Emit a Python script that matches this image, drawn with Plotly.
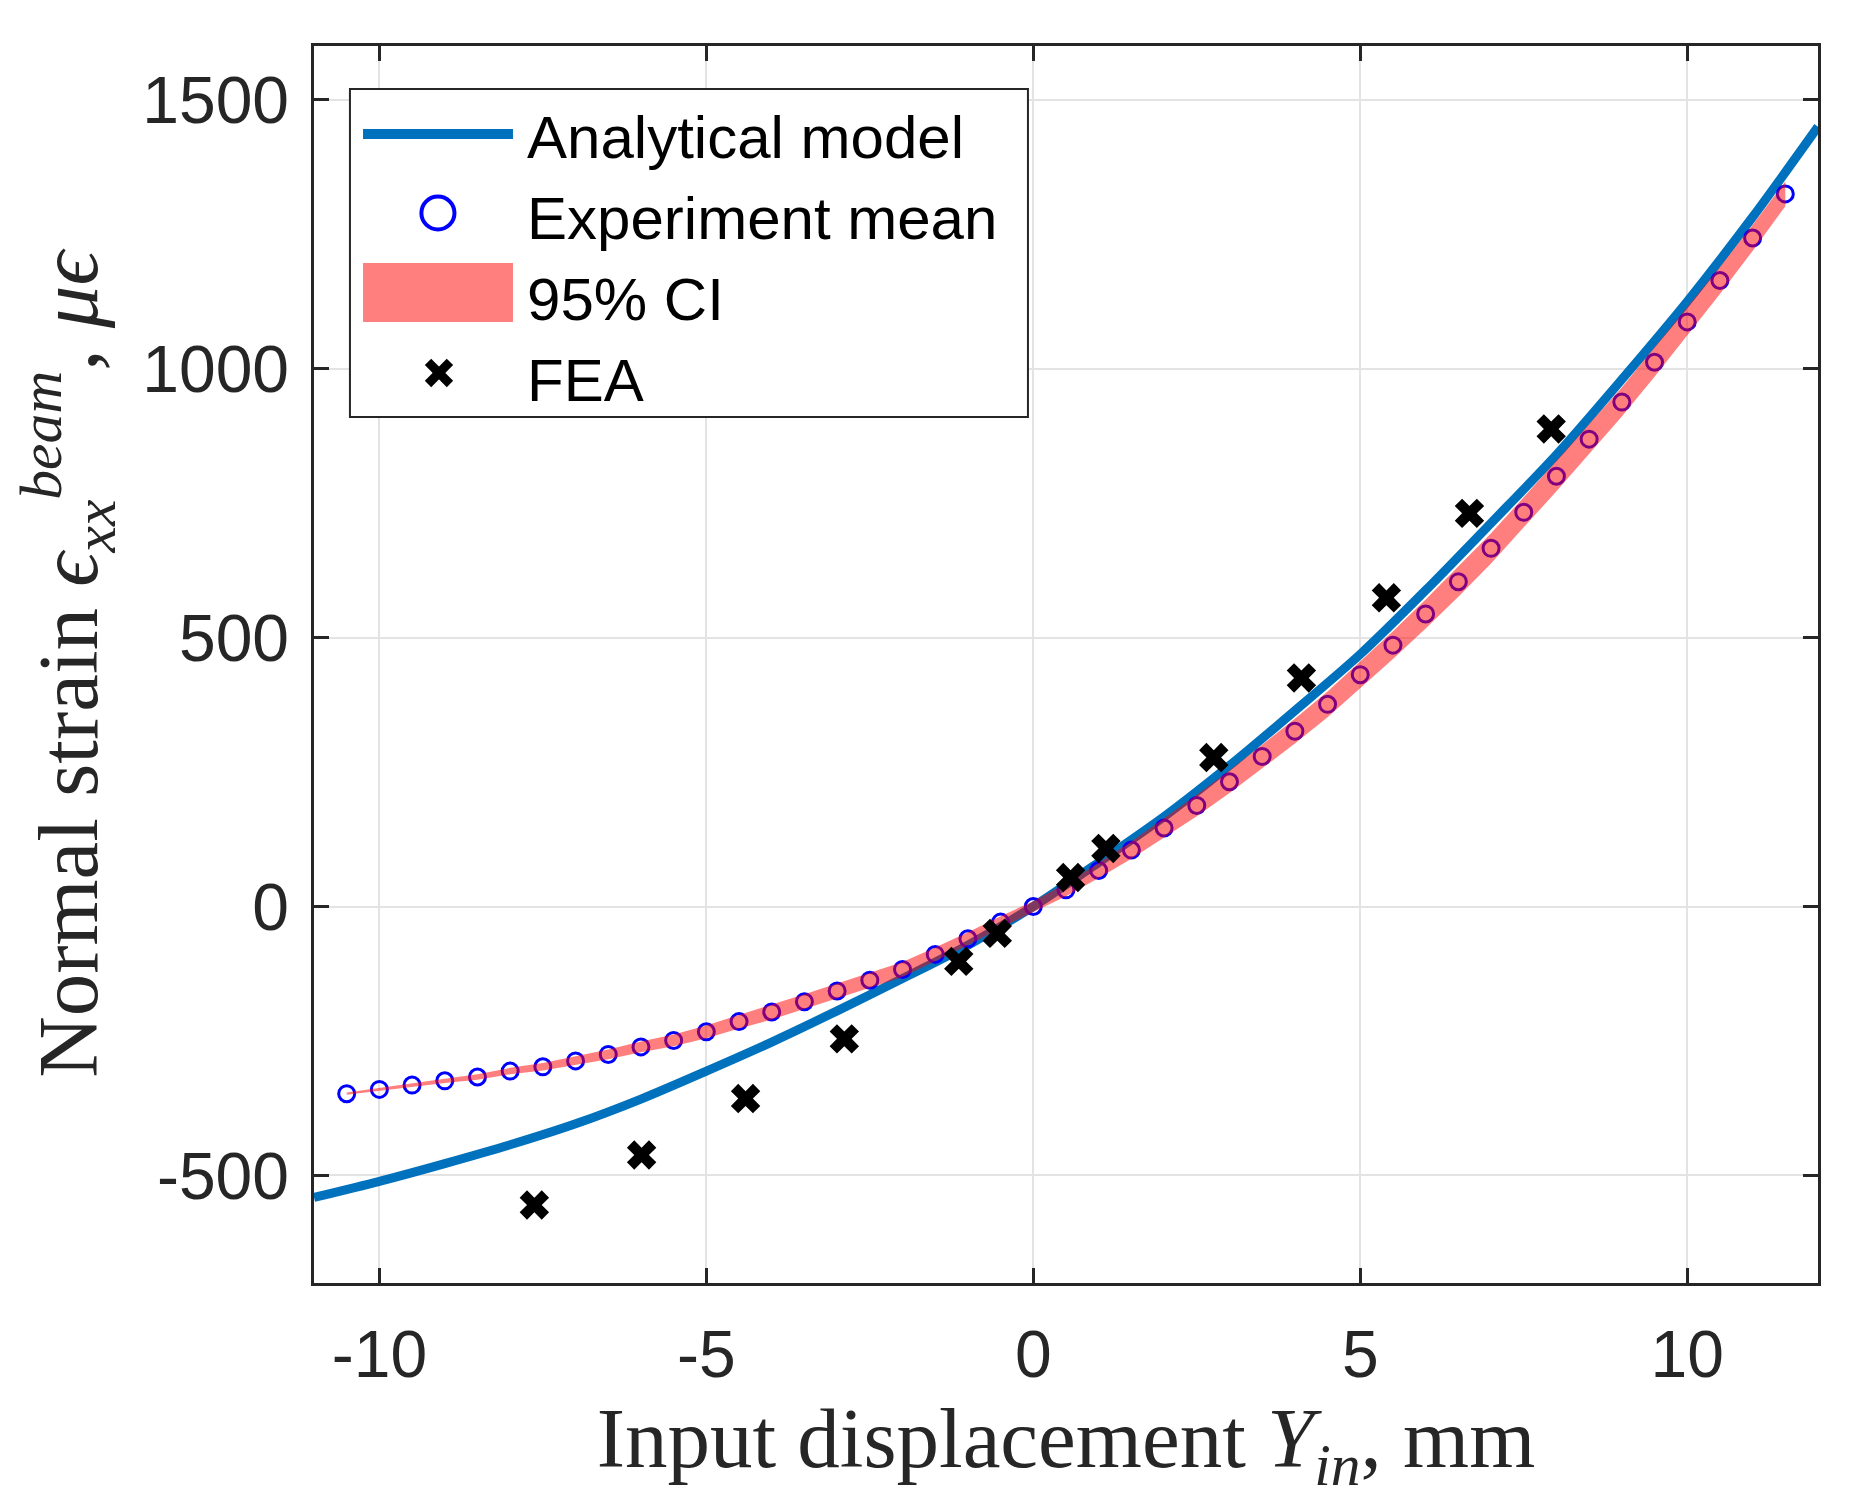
import plotly.graph_objects as go

# experiment mean, x step 0.5 mm
exp_x = [-10.5, -10, -9.5, -9, -8.5, -8, -7.5, -7, -6.5, -6, -5.5, -5, -4.5, -4,
         -3.5, -3, -2.5, -2, -1.5, -1, -0.5, 0, 0.5, 1, 1.5, 2, 2.5, 3, 3.5, 4,
         4.5, 5, 5.5, 6, 6.5, 7, 7.5, 8, 8.5, 9, 9.5, 10, 10.5, 11, 11.5]
exp_mean = [-348, -340, -332, -324, -317, -306, -298, -287, -275, -261, -249, -233,
            -214, -196, -177, -157, -137, -117, -89, -60, -29, 0, 31, 67, 105, 146,
            188, 232, 279, 326, 376, 431, 486, 544, 604, 666, 733, 800, 869, 938,
            1012, 1087, 1164, 1243, 1325]
# half width of the 95% CI band
ci_half = [2, 3, 3, 4, 5, 6, 7, 8, 9, 10, 11, 12, 13, 14, 14, 14, 14, 14, 13, 12,
           11, 10, 12, 14, 16, 18, 20, 21, 22, 23, 24, 25, 26, 27, 28, 28, 28, 28,
           28, 27, 27, 26, 25, 24, 23]

# analytical model
ana_x = [-11, -10, -9, -8, -7, -6, -5, -4, -3, -2, -1, 0, 1, 2, 3, 4, 5, 6, 7, 8,
         9, 10, 11, 12]
ana_y = [-541, -511, -478, -443, -404, -358, -306, -252, -194, -134, -72, 0, 82,
         167, 262, 364, 469, 588, 713, 840, 980, 1125, 1282, 1450]

# FEA results
fea_x = [-7.63, -5.99, -4.40, -2.89, -1.14, -0.55, 0.57, 1.11, 2.76, 4.10, 5.40,
         6.67, 7.92]
fea_y = [-555, -462, -357, -246, -102, -50, 54, 108, 277, 425, 574, 731, 888]

x_ticks = [-10, -5, 0, 5, 10]
x_ticktext = ['-10', '-5', '0', '5', '10']
y_ticks = [-500, 0, 500, 1000, 1500]
y_ticktext = ['-500', '0', '500', '1000', '1500']

legend_names = ['Analytical model', 'Experiment mean', '95% CI', 'FEA']

ci_upper = [m + h for m, h in zip(exp_mean, ci_half)]
ci_lower = [m - h for m, h in zip(exp_mean, ci_half)]

AXIS_COL = '#262626'
BLUE_LINE = '#0072BD'
BLUE_MARK = '#0000FF'
CI_COL = 'rgba(255,0,0,0.5)'
SANS = 'Liberation Sans, Arial, sans-serif'
SERIF = 'Liberation Serif, Times New Roman, serif'

traces = []
traces.append(go.Scatter(
    x=ana_x, y=ana_y, mode='lines', showlegend=False,
    line=dict(color=BLUE_LINE, width=9, shape='spline', smoothing=0.8)))
traces.append(go.Scatter(
    x=exp_x, y=exp_mean, mode='markers', showlegend=False,
    marker=dict(symbol='circle-open', size=16, color=BLUE_MARK,
                line=dict(width=3, color=BLUE_MARK))))
# CI band drawn on top of the circles (semi-transparent, like the original)
traces.append(go.Scatter(
    x=exp_x + exp_x[::-1], y=ci_upper + ci_lower[::-1],
    mode='lines', fill='toself', showlegend=False,
    fillcolor=CI_COL, line=dict(width=0, color='rgba(255,0,0,0)')))
traces.append(go.Scatter(
    x=fea_x, y=fea_y, mode='markers', showlegend=False,
    marker=dict(symbol='x', size=26, color='black')))

# legend entries (text only); the big swatches are drawn as shapes below
for k, nm in enumerate(legend_names):
    traces.append(go.Scatter(
        x=[None], y=[None], mode='lines', name=nm, legendrank=k + 1,
        line=dict(width=0, color='rgba(0,0,0,0)')))


def paper_rect(x0, x1, y0, y1, **kw):
    return dict(type='rect', xref='paper', yref='paper', layer='above',
                x0=x0, x1=x1, y0=y0, y1=y1, **kw)


def paper_line(x0, y0, x1, y1, color, width):
    return dict(type='line', xref='paper', yref='paper', layer='above',
                x0=x0, y0=y0, x1=x1, y1=y1, line=dict(color=color, width=width))


shapes = [
    # legend box
    paper_rect(0.0239, 0.4747, 0.7001, 0.9652, fillcolor='white',
               line=dict(color=AXIS_COL, width=2)),
    # analytical model swatch
    paper_line(0.0326, 0.9289, 0.1323, 0.9289, BLUE_LINE, 10),
    # experiment mean swatch
    dict(type='circle', xref='paper', yref='paper', layer='above',
         x0=0.0714, x1=0.0934, y0=0.8517, y1=0.8783,
         line=dict(color=BLUE_MARK, width=4)),
    # 95% CI swatch
    paper_rect(0.0326, 0.1323, 0.7769, 0.8246, fillcolor=CI_COL, line=dict(width=0)),
    # FEA swatch
    paper_line(0.0758, 0.7446, 0.0904, 0.7268, 'black', 9),
    paper_line(0.0758, 0.7268, 0.0904, 0.7446, 'black', 9),
]

axis_common = dict(
    showline=True, linecolor=AXIS_COL, linewidth=2.5, mirror='allticks',
    ticks='inside', ticklen=15, tickwidth=2.5, tickcolor=AXIS_COL,
    showgrid=True, gridcolor='#e3e3e3', gridwidth=2, zeroline=False,
    tickfont=dict(family=SANS, size=66, color=AXIS_COL),
)

layout = go.Layout(
    width=1833, height=1491,
    paper_bgcolor='white', plot_bgcolor='white',
    margin=dict(l=306, r=23, t=38, b=216, autoexpand=False),
    xaxis=dict(
        range=[-11, 12], tickvals=x_ticks, ticktext=x_ticktext,
        ticklabelstandoff=12,
        title=dict(text='Input displacement <i>Y</i><sub><i>in</i></sub>, mm',
                   font=dict(family=SERIF, size=85, color=AXIS_COL), standoff=4),
        **axis_common),
    yaxis=dict(
        range=[-700, 1600], tickvals=y_ticks, ticktext=y_ticktext,
        ticklabelstandoff=9,
        title=dict(text='Normal strain <i>ϵ</i><sub><i>xx</i></sub><sup><i>beam</i></sup>, <i>μϵ</i>',
                   font=dict(family=SERIF, size=85, color=AXIS_COL), standoff=22),
        **axis_common),
    legend=dict(
        x=0.024, y=0.9653, xanchor='left', yanchor='top',
        bgcolor='rgba(0,0,0,0)', borderwidth=0,
        font=dict(family=SANS, size=60, color='black'),
        itemwidth=167, tracegroupgap=0),
    shapes=shapes,
    showlegend=True,
)

fig = go.Figure(data=traces, layout=layout)
fig.write_html("out.html")
